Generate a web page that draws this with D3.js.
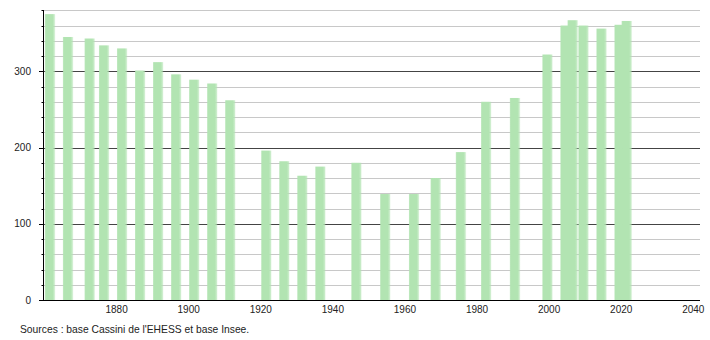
<!DOCTYPE html>
<html>
<head>
<meta charset="utf-8">
<script src="https://cdn.jsdelivr.net/npm/d3@7"></script>
<style>
  html, body { margin: 0; padding: 0; background: #fff; }
  svg { display: block; }
  text { font-family: "Liberation Sans", Arial, sans-serif; fill: #222; }
</style>
</head>
<body>
<svg id="chart" width="710" height="340"></svg>
<script>
const years = [1861, 1866, 1872, 1876, 1881, 1886, 1891, 1896, 1901, 1906, 1911,
               1921, 1926, 1931, 1936, 1946, 1954, 1962, 1968, 1975, 1982, 1990,
               1999, 2004, 2006, 2009, 2014, 2019, 2021];
const population = [375, 345, 343, 334, 330, 301, 312, 296, 289, 284, 262,
                    196, 182, 163, 175, 180, 139, 139, 160, 194, 260, 265,
                    322, 360, 367, 360, 356, 361, 366];
const xTickLabels = [1880, 1900, 1920, 1940, 1960, 1980, 2000, 2020, 2040];
const yTickLabels = [0, 100, 200, 300];
const yMinorTicks = d3.range(0, 381, 20);
const sourceText = "Sources : base Cassini de l'EHESS et base Insee.";

const svg = d3.select("#chart");
const mLeft = 44, mRight = 700, mTop = 10.3, mBottom = 300;

const x = d3.scaleLinear().domain([1859.5, 2041.5]).range([mLeft, mRight]);
const y = d3.scaleLinear().domain([0, 380]).range([mBottom, mTop]);

// gradient for soft bar edges
const defs = svg.append("defs");
const grad = defs.append("linearGradient").attr("id", "barGrad")
  .attr("x1", "0").attr("x2", "1").attr("y1", "0").attr("y2", "0");
[[0, 0.75], [0.1, 1], [0.72, 1], [0.88, 0.75], [1, 0.15]].forEach(([o, a]) => {
  grad.append("stop").attr("offset", o).attr("stop-color", "#b2e4b2").attr("stop-opacity", a);
});

// grid lines
svg.append("g").selectAll("line").data(yMinorTicks.filter(v => v > 0)).join("line")
  .attr("x1", mLeft).attr("x2", mRight)
  .attr("y1", d => Math.round(y(d)) + 0.5).attr("y2", d => Math.round(y(d)) + 0.5)
  .attr("stroke", d => d % 100 === 0 ? "#444" : "#c8c8c8")
  .attr("stroke-width", 1);

// bars
const bw = x(1861 + 1.25) - x(1861 - 1.25);
svg.append("g").selectAll("rect").data(years).join("rect")
  .attr("x", (d) => x(d) - bw / 2)
  .attr("width", bw + 1.5)
  .attr("y", (d, i) => y(population[i]))
  .attr("height", (d, i) => mBottom - y(population[i]))
  .attr("fill", "url(#barGrad)");

// y axis
const yAxis = svg.append("g");
yAxis.append("line").attr("x1", mLeft - 0.5).attr("x2", mLeft - 0.5)
  .attr("y1", mTop).attr("y2", mBottom).attr("stroke", "#000");
yAxis.selectAll("line.t").data(yMinorTicks).join("line").attr("class", "t")
  .attr("x1", d => d % 100 === 0 ? mLeft - 5 : mLeft - 2.5).attr("x2", mLeft)
  .attr("y1", d => Math.round(y(d)) + 0.5).attr("y2", d => Math.round(y(d)) + 0.5)
  .attr("stroke", "#000");
yAxis.selectAll("text").data(yTickLabels).join("text")
  .attr("x", 31).attr("y", d => y(d) + 3.5)
  .attr("text-anchor", "end").attr("font-size", 10)
  .text(d => d);

// x axis
svg.append("line").attr("x1", mLeft - 1).attr("x2", mRight)
  .attr("y1", mBottom + 0.5).attr("y2", mBottom + 0.5).attr("stroke", "#000");
svg.append("g").selectAll("text").data(xTickLabels).join("text")
  .attr("x", d => x(d) - 1.3).attr("y", 313)
  .attr("text-anchor", "middle").attr("font-size", 10)
  .text(d => d);

// source
svg.append("text").attr("x", 20).attr("y", 333).attr("font-size", 10.3)
  .text(sourceText);
</script>
</body>
</html>
